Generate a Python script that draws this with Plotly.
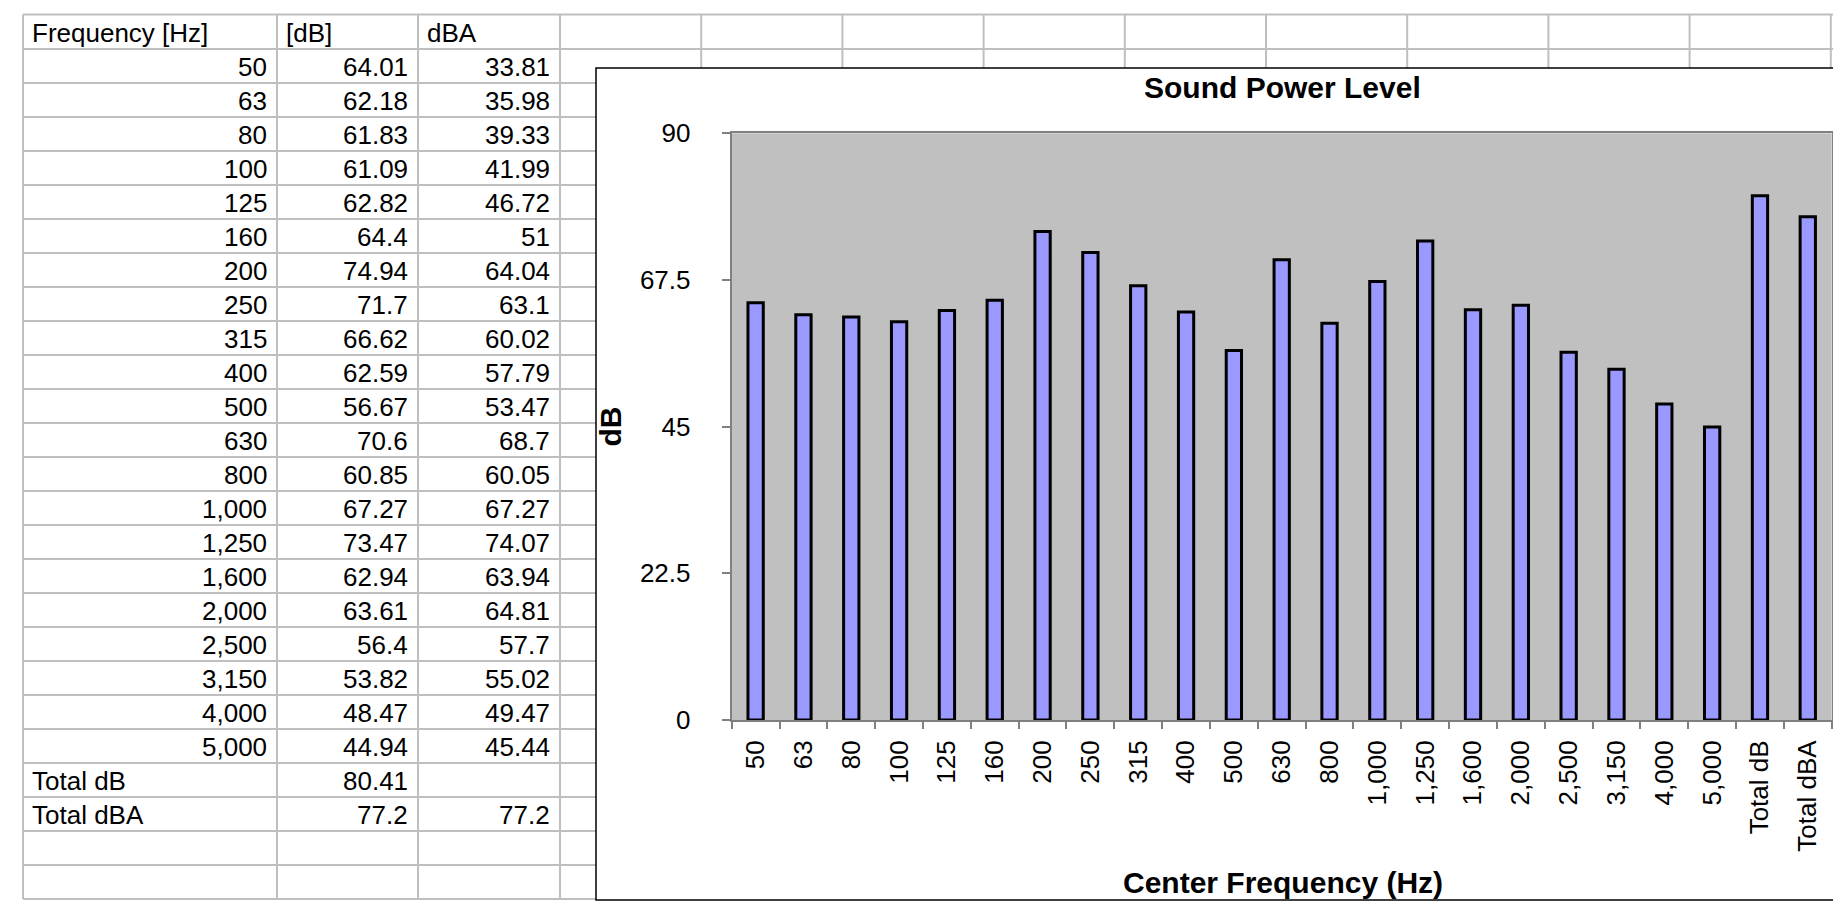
import plotly.graph_objects as go

# ---------------- data ----------------
freqs = [50, 63, 80, 100, 125, 160, 200, 250, 315, 400, 500, 630, 800,
         1000, 1250, 1600, 2000, 2500, 3150, 4000, 5000]
db_vals = [64.01, 62.18, 61.83, 61.09, 62.82, 64.4, 74.94, 71.7, 66.62, 62.59,
           56.67, 70.6, 60.85, 67.27, 73.47, 62.94, 63.61, 56.4, 53.82, 48.47, 44.94]
dba_vals = [33.81, 35.98, 39.33, 41.99, 46.72, 51, 64.04, 63.1, 60.02, 57.79,
            53.47, 68.7, 60.05, 67.27, 74.07, 63.94, 64.81, 57.7, 55.02, 49.47, 45.44]
total_labels = ["Total dB", "Total dBA"]
total_db = [80.41, 77.2]
total_dba = [None, 77.2]
header = ["Frequency [Hz]", "[dB]", "dBA"]
y_ticks = [0, 22.5, 45, 67.5, 90]

chart_title = "Sound Power Level"
x_title = "Center Frequency (Hz)"
y_title = "dB"

# ---------------- page geometry (pixels) ----------------
W, H = 1833, 909
FONT = "Liberation Sans, Arial, sans-serif"


def px(x):
    return x / W


def py(y):
    return 1 - y / H


col_x = [23, 277, 418] + [560 + 141.2 * k for k in range(10)]
row_y = [14.5] + [49 + 34 * k for k in range(26)]
box = dict(x0=596, y0=68, x1=W + 20, y1=900)
plot_l, plot_r, plot_t, plot_b = 731.7, 1831.7, 133.3, 720.0

categories = [f"{f:,}" for f in freqs] + total_labels
bar_vals = db_vals + total_db

fig = go.Figure()
fig.add_trace(go.Bar(
    x=categories, y=bar_vals, width=0.32,
    marker=dict(color="#9999FF", line=dict(color="black", width=3)),
    hoverinfo="x+y",
))

shapes = []
grid = dict(color="#BFBFBF", width=2)
for y in row_y:
    x_end = W if y < box["y0"] else box["x0"]
    shapes.append(dict(type="line", xref="paper", yref="paper",
                       x0=px(col_x[0]), x1=px(x_end), y0=py(y), y1=py(y),
                       line=grid, layer="below"))
for x in col_x:
    y_end = row_y[-1] if x < box["x0"] else box["y0"]
    shapes.append(dict(type="line", xref="paper", yref="paper",
                       x0=px(x), x1=px(x), y0=py(row_y[0]), y1=py(y_end),
                       line=grid, layer="below"))
# chart object frame
shapes.append(dict(type="rect", xref="paper", yref="paper",
                   x0=px(box["x0"]), x1=px(box["x1"]), y0=py(box["y1"]), y1=py(box["y0"]),
                   line=dict(color="black", width=1.5), fillcolor="rgba(0,0,0,0)",
                   layer="below"))

annotations = []
tfont = dict(family=FONT, size=26, color="black")


def cell_text(text, col, row, align):
    bottom = row_y[row + 1]
    yc = bottom - 16
    if align == "left":
        x, xa = col_x[col] + 7, "left"
    else:
        x, xa = col_x[col + 1] - 8, "right"
    annotations.append(dict(text=text, xref="paper", yref="paper",
                            x=px(x), y=py(yc), xanchor=xa, yanchor="middle",
                            showarrow=False, font=tfont))


for c, h in enumerate(header):
    cell_text(h, c, 0, "left")
for i, f in enumerate(freqs):
    cell_text(f"{f:,}", 0, i + 1, "right")
    cell_text(f"{db_vals[i]:g}", 1, i + 1, "right")
    cell_text(f"{dba_vals[i]:g}", 2, i + 1, "right")
for j, lab in enumerate(total_labels):
    r = len(freqs) + 1 + j
    cell_text(lab, 0, r, "left")
    if total_db[j] is not None:
        cell_text(f"{total_db[j]:g}", 1, r, "right")
    if total_dba[j] is not None:
        cell_text(f"{total_dba[j]:g}", 2, r, "right")

bfont = dict(family=FONT, size=30, color="black")
annotations.append(dict(text=f"<b>{chart_title}</b>", xref="paper", yref="paper",
                        x=px(1282), y=py(87.8), xanchor="center", yanchor="middle",
                        showarrow=False, font=bfont))
annotations.append(dict(text=f"<b>{x_title}</b>", xref="paper", yref="paper",
                        x=px(1283), y=py(882.6), xanchor="center", yanchor="middle",
                        showarrow=False, font=bfont))
annotations.append(dict(text=f"<b>{y_title}</b>", xref="paper", yref="paper",
                        x=px(610), y=py(426.5), xanchor="center", yanchor="middle",
                        textangle=-90, showarrow=False, font=bfont))

fig.update_layout(
    width=W, height=H,
    margin=dict(l=0, r=0, t=0, b=0, pad=0, autoexpand=False),
    paper_bgcolor="white",
    plot_bgcolor="#C0C0C0",
    showlegend=False,
    shapes=shapes,
    annotations=annotations,
    font=dict(family=FONT, size=26, color="black"),
    xaxis=dict(
        type="category", categoryorder="array", categoryarray=categories,
        domain=[px(plot_l), px(plot_r)], automargin=False,
        showline=True, linecolor="#808080", linewidth=2, mirror=True,
        ticks="outside", ticklen=7, tickwidth=2, tickcolor="#808080",
        tickson="boundaries", tickangle=-90, showgrid=False,
        tickfont=dict(family=FONT, size=26, color="black"),
        ticklabelstandoff=8,
    ),
    yaxis=dict(
        range=[0, 90], domain=[py(plot_b), py(plot_t)], automargin=False,
        tickmode="array", tickvals=y_ticks, ticktext=[f"{v:g}" for v in y_ticks],
        showline=True, linecolor="#808080", linewidth=2, mirror=True,
        ticks="outside", ticklen=8, tickwidth=2, tickcolor="#808080",
        showgrid=False, zeroline=False,
        tickfont=dict(family=FONT, size=26, color="black"),
        ticklabelstandoff=26,
    ),
)

fig.write_html(
    "out.html",
    config={"displayModeBar": False},
    post_script="document.body.style.margin='0';document.body.style.overflow='hidden';",
)
